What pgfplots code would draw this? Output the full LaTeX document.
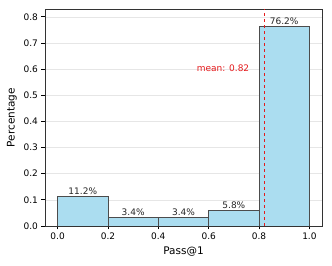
\documentclass[border=0pt]{standalone}
\usepackage{pgfplots}
\pgfplotsset{compat=1.18}
\usepackage{fontspec}
\setmainfont{DejaVu Sans}
\definecolor{barfill}{HTML}{ABDDF0}
\definecolor{gridc}{HTML}{E6E6E6}
\definecolor{meanred}{HTML}{E41A1C}
\begin{document}
\begin{tikzpicture}
\begin{axis}[
  scale only axis,
  width=277pt, height=217pt,
  xmin=-0.05, xmax=1.05,
  ymin=0, ymax=0.83,
  xtick={0,0.2,0.4,0.6,0.8,1.0},
  ytick={0,0.1,0.2,0.3,0.4,0.5,0.6,0.7,0.8},
  xticklabel style={/pgf/number format/.cd,fixed,fixed zerofill,precision=1},
  yticklabel style={/pgf/number format/.cd,fixed,fixed zerofill,precision=1},
  /pgf/number format/assume math mode=true,
  tick label style={font=\fontsize{9}{10}\selectfont},
  label style={font=\fontsize{10.5}{12}\selectfont},
  xlabel={Pass@1}, ylabel={Percentage},
  tick align=outside, xtick pos=left, ytick pos=left,
  major tick length=3.5pt,
  ymajorgrids, grid style={gridc, line width=0.6pt},
  axis line style={black!80, line width=0.8pt},
  every tick/.style={black, line width=0.8pt},
]
\addplot[ybar, bar width=0.2, fill=barfill, draw=black!70, line width=0.7pt,
  point meta=explicit symbolic,
  nodes near coords={\pgfplotspointmeta},
  nodes near coords style={font=\fontsize{9}{10}\selectfont, text=black!85, inner sep=1.5pt}] coordinates {
  (0.1,0.112) [11.2\%]
  (0.3,0.034) [3.4\%]
  (0.5,0.034) [3.4\%]
  (0.7,0.058) [5.8\%]
  (0.9,0.762) [76.2\%]
};
\addplot[draw=meanred, dashed, line width=1.1pt, mark=none] coordinates {(0.82,0) (0.82,0.83)};
\node[anchor=east, text=meanred, font=\fontsize{9}{10}\selectfont] at (axis cs:0.775,0.605) {mean: 0.82};
\coordinate (bl) at (rel axis cs:0,0);
\coordinate (tr) at (rel axis cs:1,1);
\end{axis}
\pgfresetboundingbox
\path ([shift={(-45pt,-40pt)}]bl) rectangle ([shift={(10pt,9pt)}]tr);
\end{tikzpicture}
\end{document}
